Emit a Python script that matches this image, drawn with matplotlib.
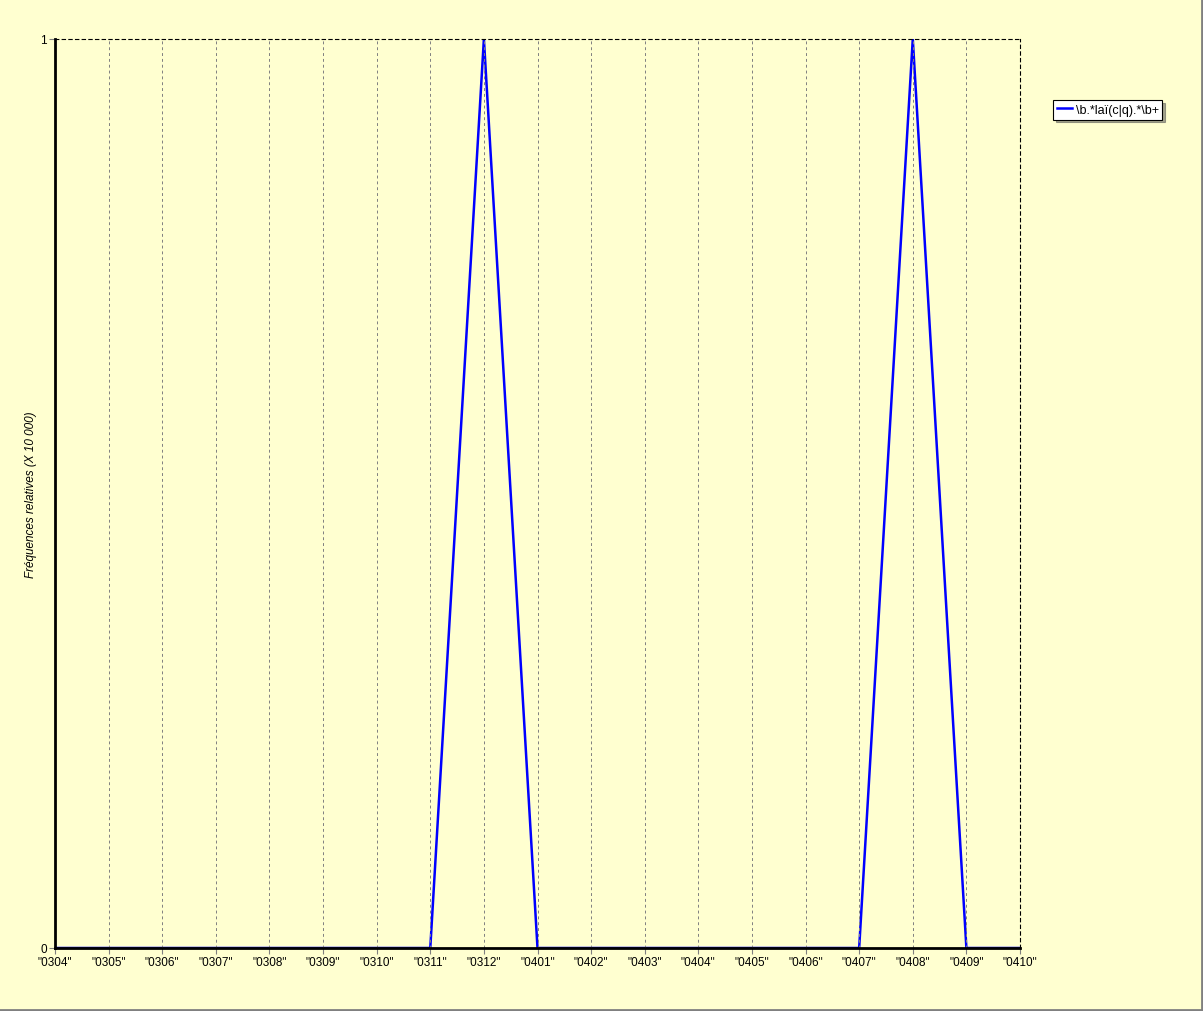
import matplotlib
matplotlib.use('Agg')
import matplotlib.pyplot as plt

# données
mois = ['0304', '0305', '0306', '0307', '0308', '0309', '0310', '0311', '0312',
        '0401', '0402', '0403', '0404', '0405', '0406', '0407', '0408', '0409', '0410']
freq = [0, 0, 0, 0, 0, 0, 0, 0, 1, 0, 0, 0, 0, 0, 0, 0, 1, 0, 0]
serie = r'\b.*laï(c|q).*\b+'

plt.rcParams['font.family'] = ['Liberation Sans', 'DejaVu Sans']
fond = '#ffffd0'

fig = plt.figure(figsize=(12.03, 10.12), dpi=100, facecolor=fond)
ax = fig.add_axes([55 / 1203, 1 - 949 / 1012, (1020 - 55) / 1203, (949 - 40) / 1012])
ax.set_facecolor(fond)

x = list(range(len(mois)))
ax.plot(x, freq, color='#0000ff', linewidth=1.8, label=serie)

ax.set_xlim(0, len(mois) - 1)
ax.set_ylim(0, 1)
ax.set_xticks(x)
ax.set_xticklabels(['"%s"' % m for m in mois], fontsize=8.5)
ax.set_yticks([0, 1])
ax.set_yticklabels(['0', '1'], fontsize=8.5)
ax.tick_params(length=4, width=0.8, color='#808080', pad=2)

# grille verticale pointillée
for xi in x[1:-1]:
    ax.axvline(xi, color='#808080', linestyle=(0, (3, 3)), linewidth=0.7)

ax.spines['left'].set_linewidth(2)
ax.spines['bottom'].set_linewidth(2)
ax.spines['top'].set_linestyle((0, (3, 3)))
ax.spines['right'].set_linestyle((0, (3, 3)))
ax.spines['top'].set_linewidth(0.8)
ax.spines['right'].set_linewidth(0.8)

ax.set_ylabel('Fréquences relatives (X 10 000)', fontsize=8.5, style='italic', labelpad=2)

leg = fig.legend(loc='upper left', bbox_to_anchor=(1053 / 1203, 1 - 101 / 1012),
                 fontsize=9, frameon=True, fancybox=False, shadow=True,
                 handlelength=1.2, handletextpad=0.3, borderpad=0.3, borderaxespad=0)
leg.get_frame().set_edgecolor('black')
leg.get_frame().set_facecolor('white')
leg.get_frame().set_linewidth(0.8)

# bordure droite et basse
fig.add_artist(plt.Line2D([0, 1], [0.001, 0.001], color='#808080', linewidth=2, transform=fig.transFigure))
fig.add_artist(plt.Line2D([0.999, 0.999], [0, 1], color='#808080', linewidth=2, transform=fig.transFigure))

fig.savefig('out.png', dpi=100, facecolor=fond)
